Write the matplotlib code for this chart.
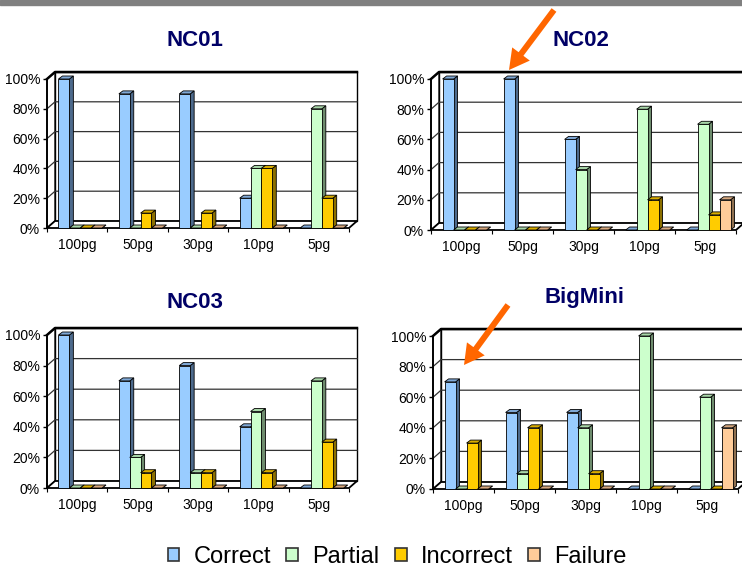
import matplotlib.pyplot as plt
from matplotlib.patches import Polygon, Rectangle, FancyArrow, Patch

plt.rcParams['font.family'] = ['Liberation Sans', 'DejaVu Sans']

W, H = 742, 567

doses = ['100pg', '50pg', '30pg', '10pg', '5pg']
series = ['Correct', 'Partial', 'Incorrect', 'Failure']

# percent of calls per dilution
nc01_correct = [100, 90, 90, 20, 0]
nc01_partial = [0, 0, 0, 40, 80]
nc01_incorrect = [0, 10, 10, 40, 20]
nc01_failure = [0, 0, 0, 0, 0]

nc02_correct = [100, 100, 60, 0, 0]
nc02_partial = [0, 0, 40, 80, 70]
nc02_incorrect = [0, 0, 0, 20, 10]
nc02_failure = [0, 0, 0, 0, 20]

nc03_correct = [100, 70, 80, 40, 0]
nc03_partial = [0, 20, 10, 50, 70]
nc03_incorrect = [0, 10, 10, 10, 30]
nc03_failure = [0, 0, 0, 0, 0]

bigmini_correct = [70, 50, 50, 0, 0]
bigmini_partial = [0, 10, 40, 100, 60]
bigmini_incorrect = [30, 40, 10, 0, 0]
bigmini_failure = [0, 0, 0, 0, 40]

front = ['#99CCFF', '#CCFFCC', '#FFCC00', '#FFCC99']
side = ['#4D6A8C', '#6E8C6E', '#8C7000', '#8F7050']
top = ['#7FA8D6', '#A8D6A8', '#D9AD00', '#D6A87F']

# name, series values, (front axis x, 0% y, 100% y, floor width) in px, title pos
panels = [
    ('NC01', [nc01_correct, nc01_partial, nc01_incorrect, nc01_failure],
     (47, 228, 79, 302), (195, 40)),
    ('NC02', [nc02_correct, nc02_partial, nc02_incorrect, nc02_failure],
     (431, 230, 79, 305), (581, 40)),
    ('NC03', [nc03_correct, nc03_partial, nc03_incorrect, nc03_failure],
     (47, 488, 335, 302), (195, 302)),
    ('BigMini', [bigmini_correct, bigmini_partial, bigmini_incorrect, bigmini_failure],
     (433, 489, 336, 305), (584, 297)),
]

fig = plt.figure(figsize=(W / 100, H / 100), dpi=100)

# grey band along the top edge
fig.add_artist(Rectangle((0, 1 - 5 / H), 1, 5 / H, transform=fig.transFigure,
                         color='#808080', zorder=0))

n = len(doses)
bw = 0.18

for name, vals, (x0, y0, y100, wpx), (tx, ty) in panels:
    ax = fig.add_axes([x0 / W, 1 - y0 / H, wpx / W, (y0 - y100) / H])
    ax.set_xlim(0, n)
    ax.set_ylim(0, 100)
    ux = wpx / n
    uy = (y0 - y100) / 100.0
    wx, wy = 8 / ux, 7 / uy   # wall depth
    bx, by = 4 / ux, 3 / uy   # bar depth

    ax.add_patch(Polygon([(wx, wy), (n + wx, wy), (n + wx, 100 + wy), (wx, 100 + wy)],
                         fc='white', ec='black', lw=1, clip_on=False, zorder=0))
    ax.add_patch(Polygon([(0, 0), (wx, wy), (wx, 100 + wy), (0, 100)],
                         fc='white', ec='black', lw=1, clip_on=False, zorder=0))
    for v in range(20, 100, 20):
        ax.plot([0, wx, n + wx], [v, v + wy, v + wy], color='#333333', lw=0.9,
                clip_on=False, zorder=0.5)
    ax.plot([0, wx, n + wx], [100, 100 + wy, 100 + wy], color='black', lw=1.8,
            clip_on=False, zorder=0.6)
    ax.add_patch(Polygon([(0, 0), (n, 0), (n + wx, wy), (wx, wy)],
                         fc='white', ec='black', lw=1.3, clip_on=False, zorder=1))

    for s in range(4):
        xs = [c + 0.5 - 2 * bw + s * bw + 0.05 for c in range(n)]
        z = 2 + s
        for x, v in zip(xs, vals[s]):
            ax.add_patch(Polygon([(x + bw, 0), (x + bw + bx, by), (x + bw + bx, v + by), (x + bw, v)],
                                 fc=side[s], ec='black', lw=0.6, clip_on=False, zorder=z))
            ax.add_patch(Polygon([(x, v), (x + bw, v), (x + bw + bx, v + by), (x + bx, v + by)],
                                 fc=top[s], ec='black', lw=0.6, clip_on=False, zorder=z + 0.1))
        ax.bar(xs, vals[s], width=bw, align='edge', color=front[s], edgecolor='black',
               lw=0.6, clip_on=False, zorder=z + 0.2)

    for sp in ['top', 'right', 'bottom']:
        ax.spines[sp].set_visible(False)
    ax.spines['left'].set_linewidth(1.3)
    ax.spines['left'].set_zorder(1.5)
    ax.set_yticks(range(0, 101, 20))
    ax.set_yticklabels([f'{v}%' for v in range(0, 101, 20)], fontsize=10)
    ax.tick_params(axis='y', length=3, pad=2, width=1)
    ax.set_xticks(range(n + 1))
    ax.set_xticklabels([])
    ax.tick_params(axis='x', which='major', length=3, width=0.8)
    ax.set_xticks([c + 0.5 for c in range(n)], minor=True)
    ax.set_xticklabels(doses, minor=True, fontsize=10)
    ax.tick_params(axis='x', which='minor', length=0, pad=7)
    ax.patch.set_visible(False)

    fig.text(tx / W, 1 - ty / H, name, ha='center', va='center', fontsize=16,
             fontweight='bold', color='#000066')

# overlay in pixel units for the arrows
ov = fig.add_axes([0, 0, 1, 1])
ov.set_xlim(0, W)
ov.set_ylim(H, 0)
ov.axis('off')
for (xa, ya), (xb, yb) in [((554, 10), (509, 70)), ((508, 305), (464, 365))]:
    ov.add_patch(FancyArrow(xa, ya, xb - xa, yb - ya, width=6, head_width=22,
                            head_length=20, length_includes_head=True,
                            color='#FF6600', lw=0))

handles = [Patch(fc=front[i], ec='#333333', lw=1.2) for i in range(4)]
fig.legend(handles, series, loc='center', bbox_to_anchor=(397 / W, 1 - 557 / H),
           ncol=4, frameon=False, fontsize=17, handlelength=0.5, handleheight=0.5,
           handletextpad=0.6, columnspacing=0.65)

fig.savefig('out.png', dpi=100)
